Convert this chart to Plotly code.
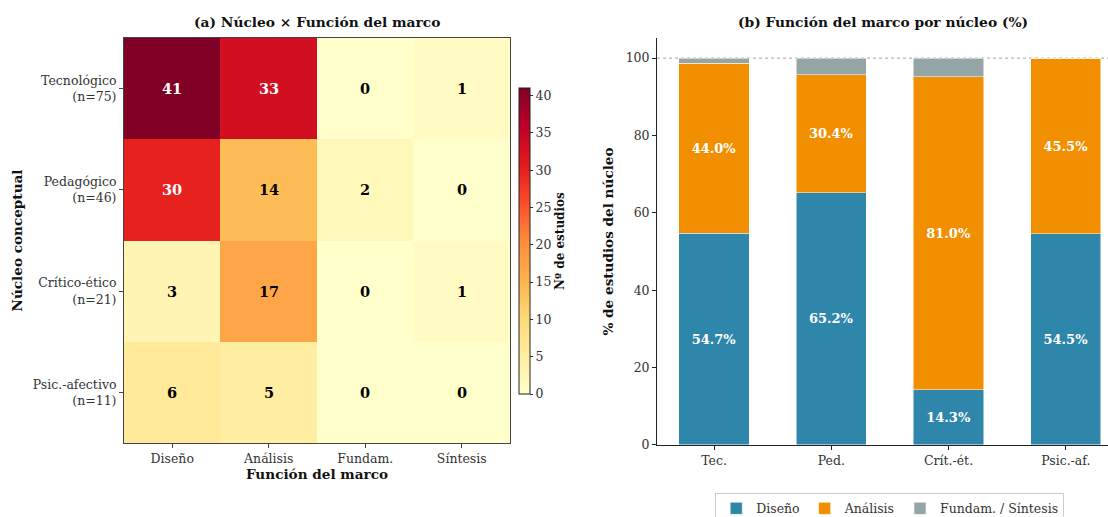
import plotly.graph_objects as go

# Conceptual cores and framework functions
nucleos = ["Tecnológico", "Pedagógico", "Crítico-ético", "Psic.-afectivo"]
nucleos_cortos = ["Tec.", "Ped.", "Crít.-ét.", "Psic.-af."]
funciones = ["Diseño", "Análisis", "Fundam.", "Síntesis"]

# Study counts per core (rows) and function (columns)
diseno = [41, 30, 3, 6]
analisis = [33, 14, 17, 5]
fundam = [0, 2, 0, 0]
sintesis = [1, 0, 1, 0]

conteos = [list(r) for r in zip(diseno, analisis, fundam, sintesis)]
totales = [sum(r) for r in conteos]
etiquetas_y = [f"{n}<br>(n={t})" for n, t in zip(nucleos, totales)]

pct_dis = [100 * d / t for d, t in zip(diseno, totales)]
pct_ana = [100 * a / t for a, t in zip(analisis, totales)]
pct_fs = [100 * (f + s) / t for f, s, t in zip(fundam, sintesis, totales)]

YLORRD = ["#ffffcc", "#ffeda0", "#fed976", "#feb24c", "#fd8d3c",
          "#fc4e2a", "#e31a1c", "#bd0026", "#800026"]
escala = [[i / (len(YLORRD) - 1), c] for i, c in enumerate(YLORRD)]

C_DIS = "#2E86AB"
C_ANA = "#F18F01"
C_FS = "#95A5A6"

FONT = "DejaVu Serif"
TXT = "#333333"
TICK = 12.5
AXT = 13.6

fig = go.Figure()

# (a) heatmap
fig.add_trace(go.Heatmap(
    z=conteos, x=funciones, y=etiquetas_y,
    colorscale=escala, zmin=0, zmax=max(max(r) for r in conteos),
    xaxis="x", yaxis="y",
    hoverinfo="skip",
    colorbar=dict(
        x=0.4684, xanchor="left", y=0.5338, yanchor="middle",
        len=306, lenmode="pixels", thickness=11, ypad=0, xpad=0,
        outlinewidth=1, outlinecolor="#222",
        tickmode="linear", tick0=0, dtick=5,
        ticks="outside", ticklen=3, tickcolor="#333",
        tickfont=dict(family=FONT, size=TICK, color=TXT),
        title=dict(text="<b>Nº de estudios</b>", side="right",
                   font=dict(family=FONT, size=12, color="#111")),
    ),
))

umbral = max(max(r) for r in conteos) / 2
for i, fila in enumerate(conteos):
    for j, v in enumerate(fila):
        fig.add_annotation(
            x=funciones[j], y=etiquetas_y[i], xref="x", yref="y",
            text=f"<b>{v}</b>", showarrow=False,
            font=dict(family=FONT, size=14.5,
                      color="white" if v > umbral else "black"),
        )

# (b) stacked percentage bars
def etiquetas(vals):
    return [f"<b>{v:.1f}%</b>" if v >= 10 else "" for v in vals]

for nombre, vals, color in [("Diseño", pct_dis, C_DIS),
                            ("Análisis", pct_ana, C_ANA),
                            ("Fundam. / Síntesis", pct_fs, C_FS)]:
    fig.add_trace(go.Bar(
        x=nucleos_cortos, y=vals, name=nombre,
        marker=dict(color=color, line=dict(color="white", width=0.5)),
        width=0.6, xaxis="x2", yaxis="y2",
        text=etiquetas(vals), texttemplate="%{text}",
        textposition="inside", insidetextanchor="middle",
        textfont=dict(family=FONT, size=13, color="white"),
        constraintext="none", hoverinfo="skip",
    ))

fig.add_shape(type="line", xref="x2 domain", yref="y2",
              x0=0, x1=1, y0=100, y1=100,
              line=dict(color="#888", width=0.8, dash="dot"), layer="below")

fig.update_layout(
    width=1108, height=517,
    margin=dict(l=0, r=0, t=0, b=0, autoexpand=False),
    paper_bgcolor="white", plot_bgcolor="white",
    barmode="stack",
    font=dict(family=FONT, size=TICK, color=TXT),
    showlegend=True,
    legend=dict(orientation="h", x=0.803, xanchor="center",
                y=0.047, yanchor="top",
                bordercolor="#cccccc", borderwidth=1,
                font=dict(family=FONT, size=TICK, color=TXT),
                traceorder="normal"),
    xaxis=dict(domain=[0.1119, 0.4603], anchor="y",
               showgrid=False, zeroline=False,
               showline=True, mirror=True, linecolor="#444", linewidth=1,
               ticks="outside", ticklen=4, tickcolor="#444",
               tickfont=dict(family=FONT, size=TICK, color=TXT),
               title=dict(text="<b>Función del marco</b>", standoff=4,
                          font=dict(family=FONT, size=AXT, color="#111"))),
    yaxis=dict(domain=[0.1431, 0.9265], anchor="x",
               showgrid=False, zeroline=False,
               autorange="reversed",
               showline=True, mirror=True, linecolor="#444", linewidth=1,
               ticks="outside", ticklen=4, tickcolor="#444",
               tickfont=dict(family=FONT, size=TICK, color=TXT),
               title=dict(text="<b>Núcleo conceptual</b>", standoff=6,
                          font=dict(family=FONT, size=AXT, color="#111"))),
    xaxis2=dict(domain=[0.593, 1.0], anchor="y2", range=[-0.486, 3.36],
                showgrid=False, zeroline=False,
                showline=True, linecolor="#222", linewidth=1,
                ticks="outside", ticklen=4, tickcolor="#222",
                tickfont=dict(family=FONT, size=TICK, color=TXT)),
    yaxis2=dict(domain=[0.1393, 0.9265], anchor="x2", range=[0, 105.2],
                showgrid=False, zeroline=False,
                showline=True, linecolor="#222", linewidth=1,
                ticks="outside", ticklen=4, tickcolor="#222",
                tickmode="array", tickvals=[0, 20, 40, 60, 80, 100],
                tickfont=dict(family=FONT, size=TICK, color=TXT),
                title=dict(text="<b>% de estudios del núcleo</b>", standoff=8,
                           font=dict(family=FONT, size=AXT, color="#111"))),
    annotations=list(fig.layout.annotations) + [
        dict(text="<b>(a) Núcleo × Función del marco</b>", x=0.286, y=1 - 22 / 517,
             xref="paper", yref="paper", showarrow=False,
             xanchor="center", yanchor="middle",
             font=dict(family=FONT, size=13.8, color="#111")),
        dict(text="<b>(b) Función del marco por núcleo (%)</b>", x=0.7965, y=1 - 22 / 517,
             xref="paper", yref="paper", showarrow=False,
             xanchor="center", yanchor="middle",
             font=dict(family=FONT, size=13.8, color="#111")),
    ],
)

fig.write_html("out.html")
